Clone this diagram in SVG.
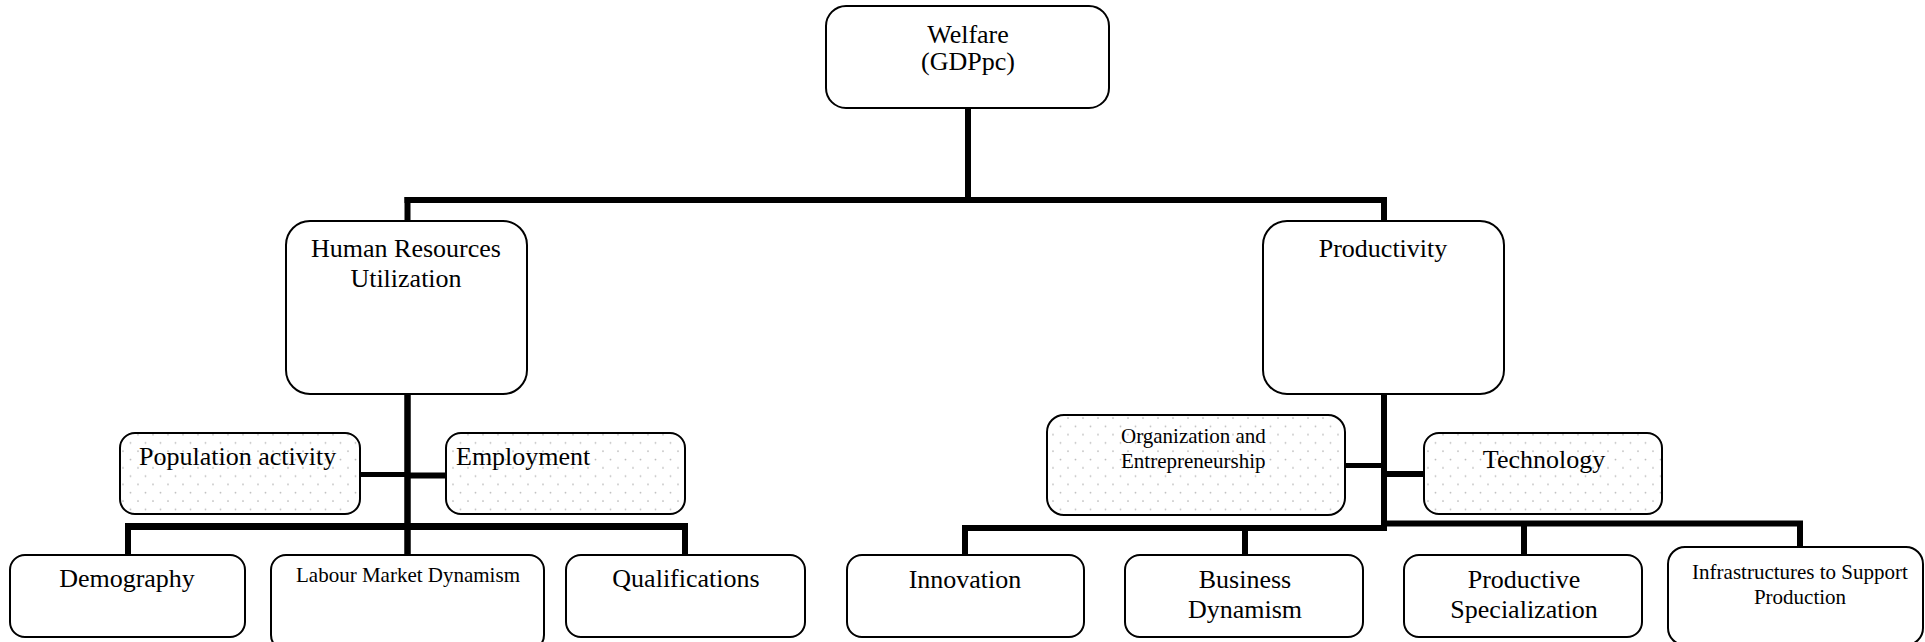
<svg xmlns="http://www.w3.org/2000/svg" width="1925" height="642" viewBox="0 0 1925 642">
<style>
.box{fill:#fff;stroke:#000;stroke-width:2}
.dot{fill:url(#dots);stroke:#000;stroke-width:2}
text{font-family:"Liberation Serif","Times New Roman",serif;fill:#000}
.t{font-size:26px;text-anchor:middle}
.s{font-size:21px;text-anchor:middle}
.c{stroke:#000;fill:none;stroke-linecap:butt}
</style>
<defs>
<pattern id="dots" width="15" height="16.6" patternUnits="userSpaceOnUse">
<rect width="15" height="16.6" fill="#fff"/>
<circle cx="3" cy="3" r="0.9" fill="#bbb"/>
<circle cx="10.5" cy="11.3" r="0.9" fill="#bbb"/>
</pattern>
</defs>
<g id="connectors">
<line class="c" x1="968" y1="108" x2="968" y2="200" stroke-width="6"/>
<line class="c" x1="404.5" y1="200" x2="1387" y2="200" stroke-width="6"/>
<line class="c" x1="407.5" y1="197" x2="407.5" y2="221" stroke-width="6"/>
<line class="c" x1="1384" y1="197" x2="1384" y2="221" stroke-width="6"/>
<line class="c" x1="407.5" y1="394" x2="407.5" y2="556" stroke-width="6.5"/>
<line class="c" x1="360" y1="474.5" x2="407" y2="474.5" stroke-width="5"/>
<line class="c" x1="407" y1="475.5" x2="446" y2="475.5" stroke-width="6"/>
<line class="c" x1="125" y1="526.5" x2="688" y2="526.5" stroke-width="7"/>
<line class="c" x1="128" y1="524" x2="128" y2="556" stroke-width="6"/>
<line class="c" x1="685" y1="524" x2="685" y2="556" stroke-width="6"/>
<line class="c" x1="1384" y1="394" x2="1384" y2="529" stroke-width="6"/>
<line class="c" x1="1345" y1="465.5" x2="1384" y2="465.5" stroke-width="5"/>
<line class="c" x1="1384" y1="474" x2="1424" y2="474" stroke-width="6"/>
<line class="c" x1="962" y1="528" x2="1387" y2="528" stroke-width="6"/>
<line class="c" x1="1381" y1="523.5" x2="1803" y2="523.5" stroke-width="6"/>
<line class="c" x1="965" y1="525" x2="965" y2="556" stroke-width="6"/>
<line class="c" x1="1245" y1="525" x2="1245" y2="556" stroke-width="6"/>
<line class="c" x1="1524" y1="521" x2="1524" y2="556" stroke-width="6"/>
<line class="c" x1="1800" y1="521" x2="1800" y2="548" stroke-width="6"/>
</g>
<g id="welfare">
<rect class="box" x="826" y="6" width="283" height="102" rx="20"/>
<text class="t" x="968" y="43">Welfare</text>
<text class="t" x="968" y="70">(GDPpc)</text>
</g>
<g id="human-resources">
<rect class="box" x="286" y="221" width="241" height="173" rx="24"/>
<text class="t" x="406" y="257">Human Resources</text>
<text class="t" x="406" y="287">Utilization</text>
</g>
<g id="productivity">
<rect class="box" x="1263" y="221" width="241" height="173" rx="24"/>
<text class="t" x="1383" y="257">Productivity</text>
</g>
<g id="population-activity">
<rect class="dot" x="120" y="433" width="240" height="81" rx="15"/>
<text class="t" x="139" y="465" style="text-anchor:start">Population activity</text>
</g>
<g id="employment">
<rect class="dot" x="446" y="433" width="239" height="81" rx="15"/>
<text class="t" x="456" y="465" style="text-anchor:start">Employment</text>
</g>
<g id="organization">
<rect class="dot" x="1047" y="415" width="298" height="100" rx="17"/>
<text class="s" x="1121" y="443" style="text-anchor:start">Organization and</text>
<text class="s" x="1121" y="468" style="text-anchor:start">Entrepreneurship</text>
</g>
<g id="technology">
<rect class="dot" x="1424" y="433" width="238" height="81" rx="15"/>
<text class="t" x="1544" y="468">Technology</text>
</g>
<g id="demography">
<rect class="box" x="10" y="555" width="235" height="82" rx="15"/>
<text class="t" x="127" y="587">Demography</text>
</g>
<g id="labour-market">
<rect class="box" x="271" y="555" width="273" height="95" rx="15"/>
<text class="s" x="408" y="582">Labour Market Dynamism</text>
</g>
<g id="qualifications">
<rect class="box" x="566" y="555" width="239" height="82" rx="15"/>
<text class="t" x="686" y="587">Qualifications</text>
</g>
<g id="innovation">
<rect class="box" x="847" y="555" width="237" height="82" rx="15"/>
<text class="t" x="965" y="588">Innovation</text>
</g>
<g id="business-dynamism">
<rect class="box" x="1125" y="555" width="238" height="82" rx="15"/>
<text class="t" x="1245" y="588">Business</text>
<text class="t" x="1245" y="618">Dynamism</text>
</g>
<g id="productive-specialization">
<rect class="box" x="1404" y="555" width="238" height="82" rx="15"/>
<text class="t" x="1524" y="588">Productive</text>
<text class="t" x="1524" y="618">Specialization</text>
</g>
<g id="infrastructures">
<rect class="box" x="1668" y="547" width="255" height="98" rx="17"/>
<text class="s" x="1800" y="579">Infrastructures to Support</text>
<text class="s" x="1800" y="604">Production</text>
</g>
</svg>
